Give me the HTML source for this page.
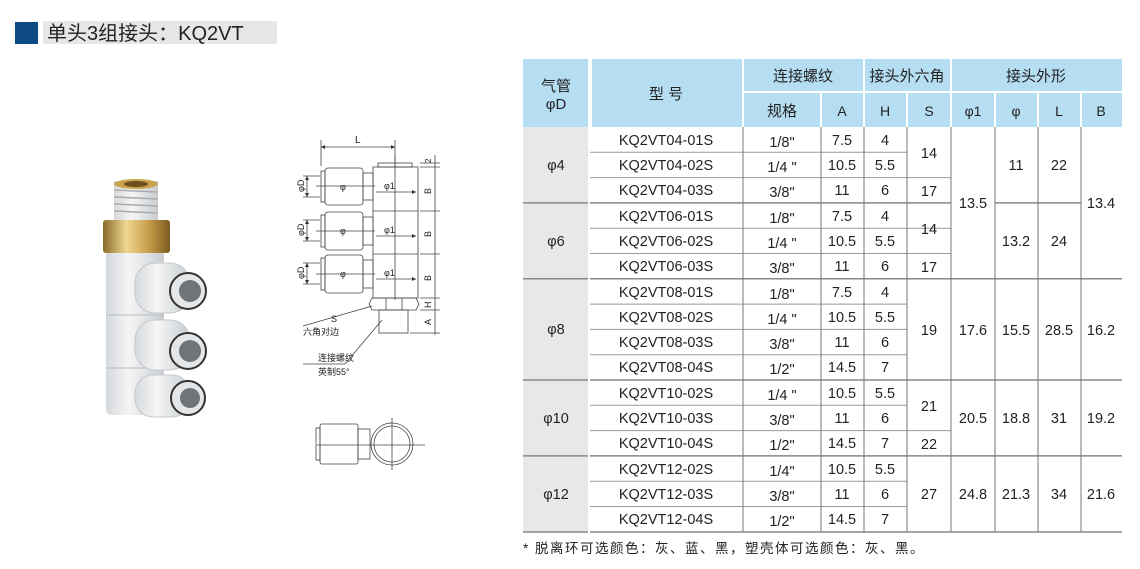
<!DOCTYPE html>
<html><head><meta charset="utf-8"><style>
body{margin:0;width:1140px;height:569px;background:#fff;overflow:hidden}
svg{position:absolute;left:0;top:0}
text{font-family:"Liberation Sans","Noto Sans CJK SC",sans-serif;fill:#222}
</style></head><body>
<svg width="1140" height="569" viewBox="0 0 1140 569">
<defs>
<linearGradient id="wh" x1="0" x2="1"><stop offset="0" stop-color="#d6d9dc"/><stop offset=".4" stop-color="#f4f5f6"/><stop offset="1" stop-color="#c9cdd0"/></linearGradient>
<linearGradient id="br" x1="0" x2="1"><stop offset="0" stop-color="#8a6a2a"/><stop offset=".35" stop-color="#f0d890"/><stop offset=".7" stop-color="#c49a45"/><stop offset="1" stop-color="#7a5a20"/></linearGradient>
<marker id="ar" viewBox="0 0 6 6" refX="6" refY="3" markerWidth="5" markerHeight="5" orient="auto-start-reverse"><path d="M0,0L6,3L0,6z" fill="#333"/></marker>
</defs>
<!-- title -->
<rect x="15" y="22" width="23" height="22" fill="#0e4a85"/>
<rect x="43" y="21" width="234" height="23" fill="#e6e6e6"/>
<text x="47" y="40" font-size="20" fill="#222">单头3组接头：KQ2VT</text>

<!-- product photo -->
<rect x="106" y="250" width="58" height="165" rx="6" fill="url(#wh)"/>
<line x1="106" y1="315" x2="164" y2="315" stroke="#b8bcbf"/>
<line x1="106" y1="368" x2="164" y2="368" stroke="#b8bcbf"/>
<rect x="114" y="181" width="44" height="40" fill="url(#wh)"/>
<g stroke="#aaa" stroke-width="1.5"><line x1="114" y1="190" x2="158" y2="192"/><line x1="114" y1="197" x2="158" y2="199"/><line x1="114" y1="204" x2="158" y2="206"/><line x1="114" y1="211" x2="158" y2="213"/></g>
<ellipse cx="136" cy="184" rx="22" ry="5" fill="#c9a24f"/>
<ellipse cx="136" cy="184" rx="12" ry="3" fill="#6b5020"/>
<rect x="103" y="220" width="67" height="33" rx="3" fill="url(#br)"/>
<g fill="url(#wh)" stroke="#c5c9cc">
<rect x="135" y="263" width="55" height="50" rx="20"/>
<rect x="135" y="320" width="55" height="50" rx="20"/>
<rect x="135" y="375" width="55" height="42" rx="18"/>
</g>
<g fill="#e4e6e8" stroke="#333" stroke-width="2">
<circle cx="188" cy="291" r="18"/><circle cx="188" cy="351" r="18"/><circle cx="188" cy="398" r="17"/>
</g>
<g fill="#6f7478"><circle cx="190" cy="291" r="11"/><circle cx="190" cy="351" r="11"/><circle cx="190" cy="398" r="10"/></g>

<!-- schematic -->
<g stroke="#444" stroke-width="0.8" fill="none">
<line x1="321" y1="140" x2="321" y2="166"/><line x1="395" y1="140" x2="395" y2="166"/>
<line x1="321" y1="147" x2="395" y2="147" marker-start="url(#ar)" marker-end="url(#ar)"/>
<rect x="378" y="163" width="34" height="4"/>
<rect x="373" y="167" width="45" height="131"/>
<line x1="373" y1="211" x2="418" y2="211"/><line x1="373" y1="254" x2="418" y2="254"/>
<rect x="325" y="168" width="38" height="37" rx="3"/><rect x="321" y="171" width="4" height="31"/><rect x="363" y="173" width="10" height="27"/>
<rect x="325" y="212" width="38" height="38" rx="3"/><rect x="321" y="215" width="4" height="32"/><rect x="363" y="217" width="10" height="28"/>
<rect x="325" y="255" width="38" height="38" rx="3"/><rect x="321" y="258" width="4" height="32"/><rect x="363" y="260" width="10" height="28"/>
<line x1="316" y1="186" x2="375" y2="186"/><line x1="316" y1="231" x2="375" y2="231"/><line x1="316" y1="274" x2="375" y2="274"/>
<line x1="395" y1="155" x2="395" y2="300"/>
<line x1="376" y1="192" x2="416" y2="192" marker-end="url(#ar)"/>
<line x1="376" y1="236" x2="416" y2="236" marker-end="url(#ar)"/>
<line x1="376" y1="279" x2="416" y2="279" marker-end="url(#ar)"/>
<line x1="307" y1="176" x2="307" y2="197" marker-start="url(#ar)" marker-end="url(#ar)"/>
<line x1="307" y1="220" x2="307" y2="241" marker-start="url(#ar)" marker-end="url(#ar)"/>
<line x1="307" y1="263" x2="307" y2="284" marker-start="url(#ar)" marker-end="url(#ar)"/>
<line x1="303" y1="176" x2="320" y2="176"/><line x1="303" y1="197" x2="320" y2="197"/>
<line x1="303" y1="220" x2="320" y2="220"/><line x1="303" y1="241" x2="320" y2="241"/>
<line x1="303" y1="263" x2="320" y2="263"/><line x1="303" y1="284" x2="320" y2="284"/>
<path d="M372,298 L416,298 L419,304 L416,310 L372,310 L369,304 Z"/>
<line x1="386" y1="298" x2="386" y2="310"/><line x1="402" y1="298" x2="402" y2="310"/>
<rect x="379" y="310" width="29" height="23"/>
<line x1="420" y1="163" x2="440" y2="163"/><line x1="420" y1="167" x2="440" y2="167"/>
<line x1="420" y1="211" x2="440" y2="211"/><line x1="420" y1="254" x2="440" y2="254"/>
<line x1="420" y1="298" x2="440" y2="298"/><line x1="420" y1="310" x2="440" y2="310"/><line x1="410" y1="333" x2="440" y2="333"/>
<line x1="435" y1="155" x2="435" y2="335"/>
<line x1="303" y1="326" x2="372" y2="306"/>
<line x1="303" y1="364" x2="345" y2="364"/><line x1="345" y1="364" x2="382" y2="320"/>
<!-- bottom view -->
<rect x="316" y="428" width="4" height="32"/>
<rect x="320" y="424" width="38" height="40" rx="2"/>
<rect x="358" y="429" width="12" height="30"/>
<circle cx="392" cy="444" r="21"/><circle cx="392" cy="444" r="18"/>
<line x1="317" y1="445" x2="425" y2="445"/><line x1="392" y1="418" x2="392" y2="470"/>
</g>
<g font-size="9" fill="#333">
<text x="355" y="143" font-size="10">L</text>
<text x="384" y="189">φ1</text><text x="384" y="233">φ1</text><text x="384" y="276">φ1</text>
<text x="340" y="190">φ</text><text x="340" y="234">φ</text><text x="340" y="277">φ</text>
<text transform="translate(304,192) rotate(-90)">φD</text>
<text transform="translate(304,236) rotate(-90)">φD</text>
<text transform="translate(304,279) rotate(-90)">φD</text>
<text transform="translate(431,194) rotate(-90)">B</text>
<text transform="translate(431,237) rotate(-90)">B</text>
<text transform="translate(431,281) rotate(-90)">B</text>
<text transform="translate(431,308) rotate(-90)">H</text>
<text transform="translate(431,325) rotate(-90)">A</text>
<text transform="translate(431,163) rotate(-90)" font-size="8">2</text>
<text x="331" y="322">S</text>
<text x="303" y="335" font-family="'Noto Sans CJK SC',sans-serif">六角对边</text>
<text x="318" y="361" font-family="'Noto Sans CJK SC',sans-serif">连接螺纹</text>
<text x="318" y="375" font-family="'Noto Sans CJK SC',sans-serif">英制55°</text>
</g>

<!-- table header -->
<rect x="523" y="59" width="599" height="68" fill="#b6def3"/>
<g stroke="#fff" stroke-width="2">
<line x1="590" y1="59" x2="590" y2="532" stroke-width="4"/>
<line x1="743" y1="59" x2="743" y2="127"/>
<line x1="864" y1="59" x2="864" y2="127"/>
<line x1="951" y1="59" x2="951" y2="127"/>
<line x1="821" y1="92" x2="821" y2="127"/>
<line x1="907" y1="92" x2="907" y2="127"/>
<line x1="995" y1="92" x2="995" y2="127"/>
<line x1="1038" y1="92" x2="1038" y2="127"/>
<line x1="1081" y1="92" x2="1081" y2="127"/>
<line x1="743" y1="92" x2="1122" y2="92"/>
</g>
<g font-size="15" text-anchor="middle" fill="#333">
<text x="556" y="91">气管</text><text x="556" y="109">φD</text>
<text x="666" y="99">型 号</text>
<text x="803" y="81">连接螺纹</text>
<text x="907" y="81">接头外六角</text>
<text x="1036" y="81">接头外形</text>
<text x="782" y="116">规格</text>
<text x="842" y="116" font-size="14">A</text>
<text x="885" y="116" font-size="14">H</text>
<text x="929" y="116" font-size="14">S</text>
<text x="973" y="116" font-size="14">φ1</text>
<text x="1016" y="116" font-size="14">φ</text>
<text x="1059" y="116" font-size="14">L</text>
<text x="1101" y="116" font-size="14">B</text>
</g>
<!-- body -->
<rect x="523" y="127" width="65" height="405" fill="#e8e8e8"/>
<g stroke="#999" stroke-width="1">
<line x1="590" y1="152.3" x2="907" y2="152.3"/><line x1="590" y1="177.6" x2="951" y2="177.6"/>
<line x1="590" y1="228.2" x2="951" y2="228.2"/><line x1="590" y1="253.5" x2="951" y2="253.5"/>
<line x1="590" y1="304.1" x2="907" y2="304.1"/><line x1="590" y1="329.4" x2="907" y2="329.4"/>
<line x1="590" y1="354.7" x2="907" y2="354.7"/><line x1="590" y1="405.3" x2="907" y2="405.3"/>
<line x1="590" y1="430.6" x2="951" y2="430.6"/><line x1="590" y1="481.2" x2="907" y2="481.2"/>
<line x1="590" y1="506.5" x2="907" y2="506.5"/>
</g>
<g stroke="#888" stroke-width="1.5">
<line x1="523" y1="202.9" x2="588" y2="202.9"/><line x1="590" y1="202.9" x2="951" y2="202.9"/><line x1="995" y1="202.9" x2="1081" y2="202.9"/>
<line x1="523" y1="278.8" x2="588" y2="278.8"/><line x1="590" y1="278.8" x2="1122" y2="278.8"/>
<line x1="523" y1="380" x2="588" y2="380"/><line x1="590" y1="380" x2="1122" y2="380"/>
<line x1="523" y1="455.9" x2="588" y2="455.9"/><line x1="590" y1="455.9" x2="1122" y2="455.9"/>
<line x1="523" y1="532" x2="588" y2="532"/><line x1="590" y1="532" x2="1122" y2="532"/>
</g>
<g stroke="#777" stroke-width="1">
<line x1="743" y1="127" x2="743" y2="532"/><line x1="821" y1="127" x2="821" y2="532"/>
<line x1="864" y1="127" x2="864" y2="532"/><line x1="907" y1="127" x2="907" y2="532"/>
<line x1="951" y1="127" x2="951" y2="532"/><line x1="995" y1="127" x2="995" y2="532"/>
<line x1="1038" y1="127" x2="1038" y2="532"/><line x1="1081" y1="127" x2="1081" y2="532"/>
</g>
<g font-size="14.5" text-anchor="middle">
<text x="556" y="170">φ4</text><text x="556" y="246">φ6</text><text x="556" y="334">φ8</text><text x="556" y="423">φ10</text><text x="556" y="499">φ12</text>
<g>
<text x="666" y="145">KQ2VT04-01S</text><text x="666" y="170">KQ2VT04-02S</text><text x="666" y="195">KQ2VT04-03S</text>
<text x="666" y="221">KQ2VT06-01S</text><text x="666" y="246">KQ2VT06-02S</text><text x="666" y="271">KQ2VT06-03S</text>
<text x="666" y="297">KQ2VT08-01S</text><text x="666" y="322">KQ2VT08-02S</text><text x="666" y="347">KQ2VT08-03S</text><text x="666" y="372">KQ2VT08-04S</text>
<text x="666" y="398">KQ2VT10-02S</text><text x="666" y="423">KQ2VT10-03S</text><text x="666" y="448">KQ2VT10-04S</text>
<text x="666" y="474">KQ2VT12-02S</text><text x="666" y="499">KQ2VT12-03S</text><text x="666" y="524">KQ2VT12-04S</text>
</g>
<g>
<text x="782" y="147">1/8"</text><text x="782" y="172">1/4 "</text><text x="782" y="197">3/8"</text>
<text x="782" y="223">1/8"</text><text x="782" y="248">1/4 "</text><text x="782" y="273">3/8"</text>
<text x="782" y="299">1/8"</text><text x="782" y="324">1/4 "</text><text x="782" y="349">3/8"</text><text x="782" y="374">1/2"</text>
<text x="782" y="400">1/4 "</text><text x="782" y="425">3/8"</text><text x="782" y="450">1/2"</text>
<text x="782" y="476">1/4"</text><text x="782" y="501">3/8"</text><text x="782" y="526">1/2"</text>
</g>
<g>
<text x="842" y="145">7.5</text><text x="842" y="170">10.5</text><text x="842" y="195">11</text>
<text x="842" y="221">7.5</text><text x="842" y="246">10.5</text><text x="842" y="271">11</text>
<text x="842" y="297">7.5</text><text x="842" y="322">10.5</text><text x="842" y="347">11</text><text x="842" y="372">14.5</text>
<text x="842" y="398">10.5</text><text x="842" y="423">11</text><text x="842" y="448">14.5</text>
<text x="842" y="474">10.5</text><text x="842" y="499">11</text><text x="842" y="524">14.5</text>
</g>
<g>
<text x="885" y="145">4</text><text x="885" y="170">5.5</text><text x="885" y="195">6</text>
<text x="885" y="221">4</text><text x="885" y="246">5.5</text><text x="885" y="271">6</text>
<text x="885" y="297">4</text><text x="885" y="322">5.5</text><text x="885" y="347">6</text><text x="885" y="372">7</text>
<text x="885" y="398">5.5</text><text x="885" y="423">6</text><text x="885" y="448">7</text>
<text x="885" y="474">5.5</text><text x="885" y="499">6</text><text x="885" y="524">7</text>
</g>
<g>
<text x="929" y="158">14</text><text x="929" y="196">17</text>
<text x="929" y="234">14</text><text x="929" y="272">17</text>
<text x="929" y="335">19</text><text x="929" y="411">21</text><text x="929" y="449">22</text><text x="929" y="499">27</text>
</g>
<g>
<text x="973" y="208">13.5</text><text x="973" y="335">17.6</text><text x="973" y="423">20.5</text><text x="973" y="499">24.8</text>
<text x="1016" y="170">11</text><text x="1016" y="246">13.2</text><text x="1016" y="335">15.5</text><text x="1016" y="423">18.8</text><text x="1016" y="499">21.3</text>
<text x="1059" y="170">22</text><text x="1059" y="246">24</text><text x="1059" y="335">28.5</text><text x="1059" y="423">31</text><text x="1059" y="499">34</text>
<text x="1101" y="208">13.4</text><text x="1101" y="335">16.2</text><text x="1101" y="423">19.2</text><text x="1101" y="499">21.6</text>
</g>
</g>
<text x="523" y="553" font-size="13.5" letter-spacing="1.5">* 脱离环可选颜色：灰、蓝、黑，塑壳体可选颜色：灰、黑。</text>
</svg>
</body></html>
